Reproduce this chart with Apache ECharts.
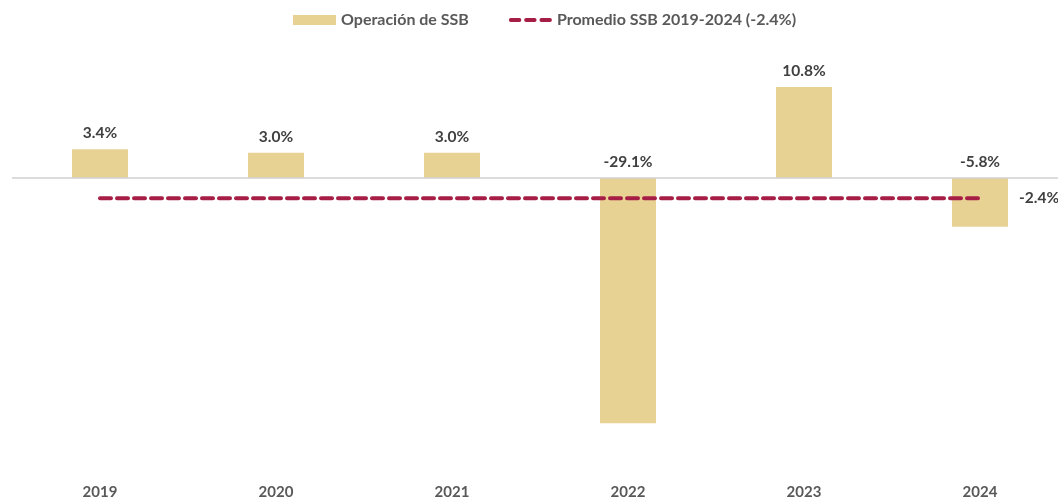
<!DOCTYPE html>
<html>
<head>
<meta charset="utf-8">
<script src="https://cdn.jsdelivr.net/npm/echarts@6/dist/echarts.min.js"></script>
<style>
  html, body { margin: 0; padding: 0; background: #fff; }
  #chart { width: 1058px; height: 504px; }
</style>
</head>
<body>
<div id="chart"></div>
<script>
// 数据
const years = ['2019', '2020', '2021', '2022', '2023', '2024'];
const ssbValues = [3.4, 3.0, 3.0, -29.1, 10.8, -5.8];
const avgValues = [-2.4, -2.4, -2.4, -2.4, -2.4, -2.4];
const avgLabel = '-2.4%';

const fontFam = 'Lato, "Open Sans", sans-serif';

const chart = echarts.init(document.getElementById('chart'));

const option = {
  animation: false,
  legend: {
    top: 7,
    left: 288,
    itemGap: 40,
    itemWidth: 43,
    itemHeight: 10,
    textStyle: { color: '#595959', fontSize: 16, fontWeight: 'bold', fontFamily: fontFam },
    data: [
      { name: 'Operación de SSB', icon: 'rect' },
      {
        name: 'Promedio SSB 2019-2024 (-2.4%)',
        icon: 'path://M2,0h9a2,2 0 0 1 0,4h-9a2,2 0 0 1 0,-4z M18,0h9a2,2 0 0 1 0,4h-9a2,2 0 0 1 0,-4z M34,0h9a2,2 0 0 1 0,4h-9a2,2 0 0 1 0,-4z',
        itemStyle: { color: '#A61E45' }
      }
    ]
  },
  // 网格略超出右边界，以匹配原图类目间距
  grid: { left: 12, right: -10, top: 51.5, bottom: 31, outerBoundsMode: 'none' },
  xAxis: {
    type: 'category',
    data: years,
    axisLine: { show: false, onZero: false },
    axisTick: { show: false },
    axisLabel: { color: '#595959', fontSize: 15, fontWeight: 'bold', fontFamily: fontFam, margin: 12 }
  },
  yAxis: {
    type: 'value',
    min: -35,
    max: 15,
    show: false,
    splitLine: { show: false }
  },
  series: [
    {
      name: 'Operación de SSB',
      type: 'bar',
      data: ssbValues,
      barWidth: 56,
      itemStyle: { color: '#E8D293' },
      label: {
        show: true,
        position: 'top',
        distance: 8,
        color: '#404040',
        fontSize: 15.5,
        fontWeight: 'bold',
        fontFamily: fontFam,
        formatter: p => p.value.toFixed(1) + '%'
      },
      markLine: {
        silent: true,
        symbol: 'none',
        label: { show: false },
        lineStyle: { color: '#d0d0d0', type: 'solid', width: 1.5 },
        data: [{ yAxis: 0 }]
      }
    },
    {
      name: 'Promedio SSB 2019-2024 (-2.4%)',
      type: 'line',
      data: avgValues,
      symbol: 'none',
      z: 5,
      lineStyle: { color: '#A61E45', width: 4, type: [11, 6], cap: 'round' },
      itemStyle: { color: '#A61E45' },
      endLabel: {
        show: true,
        distance: 39,
        color: '#404040',
        fontSize: 15.5,
        fontWeight: 'bold',
        fontFamily: fontFam,
        formatter: () => avgLabel
      }
    }
  ]
};

chart.setOption(option);
</script>
</body>
</html>
